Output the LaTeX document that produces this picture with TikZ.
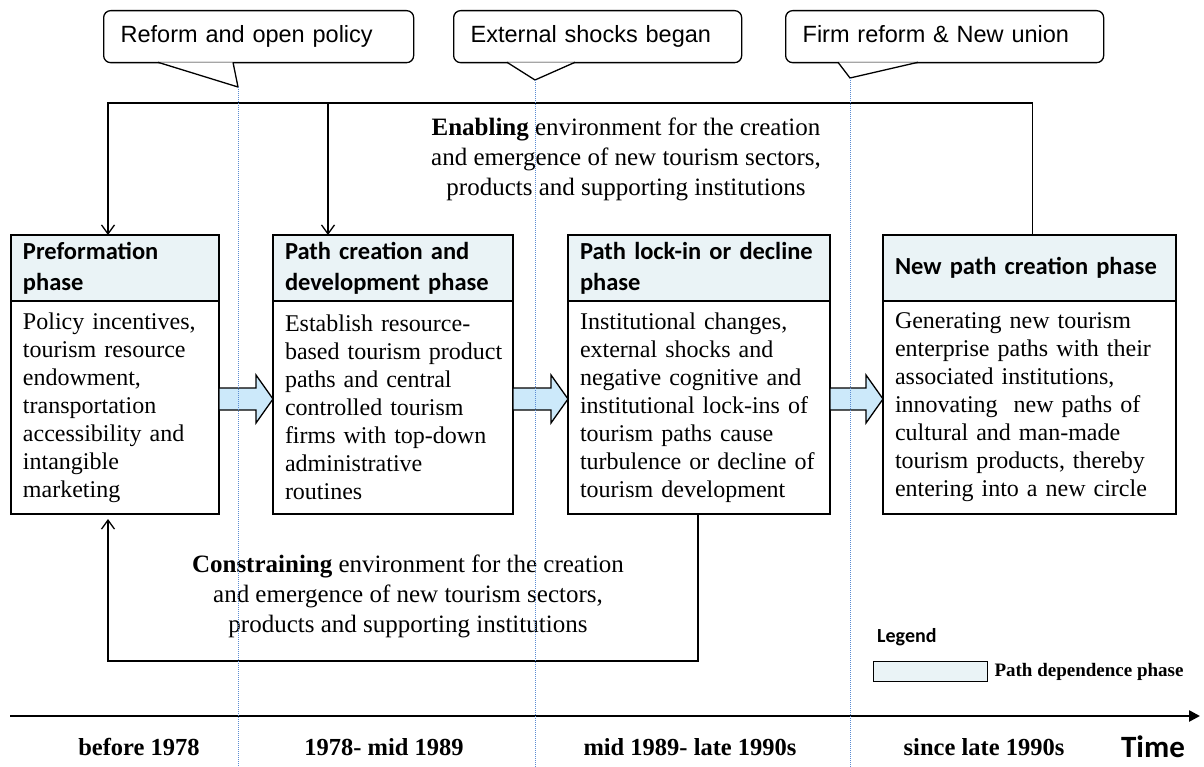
\documentclass[tikz,border=0pt]{standalone}
\usepackage{fontspec}
\setmainfont{Liberation Serif}
\newfontfamily\headfont{Carlito}
\newfontfamily\bubblefont{Liberation Sans}
\usetikzlibrary{positioning, calc, arrows.meta}
\definecolor{headfill}{RGB}{234,243,246}
\definecolor{arrowfill}{RGB}{204,233,250}
\definecolor{eraline}{RGB}{91,140,210}
\tikzset{
  phasehead/.style={draw, fill=headfill, line width=1.3pt, outer sep=0pt,
	minimum height=66pt, inner xsep=12pt, align=left,
	font=\headfont\bfseries\fontsize{24.5}{31}\selectfont}, % title row of a phase
  phasebody/.style={draw, line width=1.3pt, outer sep=0pt,
	minimum height=213pt, inner xsep=12pt, align=left,
	font=\fontsize{24}{28}\selectfont}, % description row of a phase
  bubble/.style={draw, fill=white, rounded corners=7pt, line width=1.3pt,
	anchor=north west, minimum height=52pt, inner xsep=17pt, align=left,
	text height=17pt, text depth=5pt,
	font=\bubblefont\fontsize{23.5}{28}\selectfont}, % event callouts
  pointer/.style={fill=white, line width=1.3pt, line join=miter},
  blockarrow/.style={draw, fill=arrowfill, line width=1.3pt, line join=miter},
  feedback/.style={line width=1.3pt, -{Straight Barb[length=9pt,width=13pt]}},
  envtext/.style={align=center, font=\fontsize{25}{30}\selectfont},
  era/.style={eraline, line width=1pt, densely dotted}, % period borders
  period/.style={font=\bfseries\fontsize{24.5}{28}\selectfont},
}
\newcommand{\phasearrow}[2]{%
  \draw[blockarrow] let \p1=(#1.east), \p2=(#2.west) in
	(\x1,-388pt) -- (\x2-17pt,-388pt) -- (\x2-17pt,-375pt) -- (\x2,-399pt)
	-- (\x2-17pt,-423pt) -- (\x2-17pt,-410pt) -- (\x1,-410pt) -- cycle;}

\begin{document}
\begin{tikzpicture}[x=1pt, y=-1pt]
\useasboundingbox (0,0) rectangle (1204,767);

% events
\node[bubble, text width=276pt] (reform) at (103,10) {Reform and open policy};
\node[bubble, text width=254pt] (shock) at (453,10) {External shocks began};
\node[bubble, text width=284pt] (firm) at (785,10) {Firm reform \& New union};
\coordinate (reform tip) at (238,87);
\coordinate (shock tip) at (535,80);
\coordinate (firm tip) at (850,78);
\draw[pointer] ($(reform.south west)+(55,-1)$) -- (reform tip) -- ($(reform.south west)+(130,-1)$);
\draw[pointer] ($(shock.south west)+(54,-1)$) -- (shock tip) -- ($(shock.south west)+(122,-1)$);
\draw[pointer] ($(firm.south west)+(53,-1)$) -- (firm tip) -- ($(firm.south west)+(133,-1)$);

% phases
\node[phasehead, text width=184pt, anchor=north west] (pre head) at (11,235) {Preformation\\phase};
\node[phasehead, text width=216pt, right=54pt of pre head] (path head) {Path creation and\\development phase};
\node[phasehead, text width=238pt, right=55pt of path head] (lock head) {Path lock-in or decline\\phase};
\node[phasehead, text width=269pt, right=53pt of lock head] (new head) {New path creation phase};

\node[phasebody, text width=184pt, below=0pt of pre head] (pre body) {Policy incentives,\\tourism resource\\endowment,\\transportation\\accessibility and\\intangible\\marketing};
\node[phasebody, text width=216pt, below=0pt of path head] (path body) {Establish resource-\\\mbox{based tourism product}\\paths and central\\controlled tourism\\firms with top-down\\administrative\\routines};
\node[phasebody, text width=238pt, below=0pt of lock head] (lock body) {Institutional changes,\\external shocks and\\negative cognitive and\\\mbox{institutional lock-ins of}\\tourism paths cause\\\mbox{turbulence or decline of}\\tourism development};
\node[phasebody, text width=269pt, below=0pt of new head] (new body) {Generating new tourism\\\mbox{enterprise paths with their}\\associated institutions,\\innovating\ \ new paths of\\cultural and man-made\\\mbox{tourism products, thereby}\\\mbox{entering into a new circle}};

\phasearrow{pre body}{path body}
\phasearrow{path body}{lock body}
\phasearrow{lock body}{new body}

% enabling loop
\coordinate (en left) at (108,103);
\coordinate (en mid) at (328,103);
\draw[feedback] ([xshift=3pt]new head.north) |- (en left) -- (en left |- pre head.north);
\draw[feedback] (en mid) -- (en mid |- path head.north);
\node[envtext] (enabling) at (626,159) {\textbf{Enabling} environment for the creation\\and emergence of new tourism sectors,\\products and supporting institutions};

% constraining loop
\coordinate (con right) at (698,661);
\coordinate (con left) at (108,661);
\draw[feedback, shorten >=5pt] (lock body.south -| con right) -- (con right) -- (con left) -- (con left |- pre body.south);
\node[envtext] (constraining) at (408,596) {\textbf{Constraining} environment for the creation\\and emergence of new tourism sectors,\\products and supporting institutions};

% legend
\node[anchor=west, inner sep=0pt, font=\headfont\bfseries\fontsize{20}{24}\selectfont] (legend) at (877,637) {Legend};
\node[draw, fill=headfill, line width=1.3pt, minimum width=114pt, minimum height=20pt, anchor=north west] (legend key) at (873,661) {};
\node[right=6pt of legend key, inner sep=0pt, font=\bfseries\fontsize{19}{22}\selectfont] (legend text) {Path dependence phase};

% time line
\coordinate (t start) at (10,716);
\coordinate (t end) at (1200,716);
\draw[line width=2.5pt, -{Triangle[length=11pt,width=11pt]}] (t start) -- (t end);
\node[period] (p1) at (139,747) {before 1978};
\node[period] (p2) at (384,747) {1978- mid 1989};
\node[period] (p3) at (690,747) {mid 1989- late 1990s};
\node[period] (p4) at (984,747) {since late 1990s};
\node[font=\headfont\bfseries\fontsize{31}{36}\selectfont] (time) at (1153,747) {Time};

% period borders
\draw[era] (reform tip) -- (reform tip |- 0,767);
\draw[era] (shock tip) -- (shock tip |- 0,767);
\draw[era] (firm tip) -- (firm tip |- 0,767);
\end{tikzpicture}
\end{document}
